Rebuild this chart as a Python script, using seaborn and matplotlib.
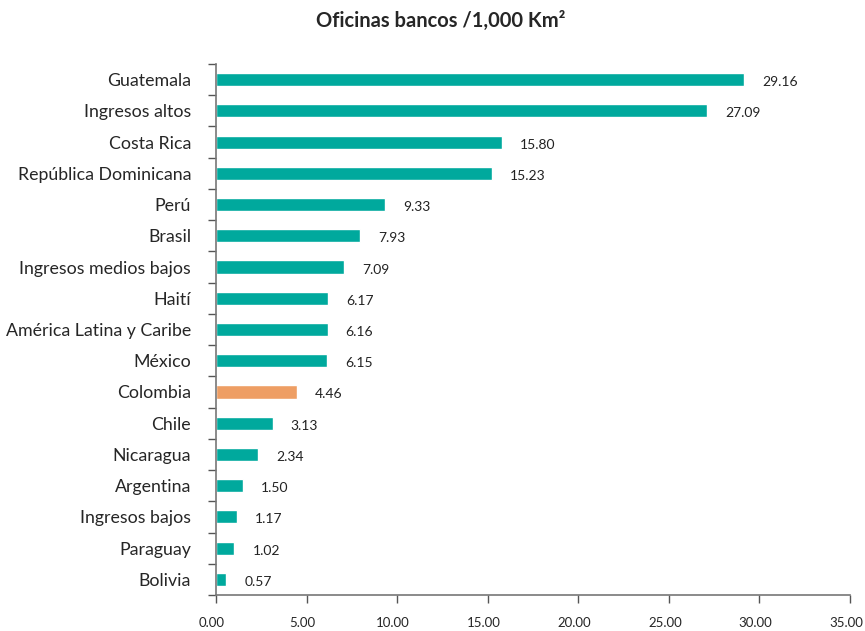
import numpy as np
import pandas as pd
import seaborn as sns
import matplotlib.pyplot as plt
import matplotlib.transforms as mtransforms

paises = [
    "Guatemala", "Ingresos altos", "Costa Rica", "República Dominicana", "Perú",
    "Brasil", "Ingresos medios bajos", "Haití", "América Latina y Caribe", "México",
    "Colombia", "Chile", "Nicaragua", "Argentina", "Ingresos bajos", "Paraguay", "Bolivia",
]
oficinas = [29.16, 27.09, 15.80, 15.23, 9.33, 7.93, 7.09, 6.17, 6.16, 6.15,
            4.46, 3.13, 2.34, 1.50, 1.17, 1.02, 0.57]

teal = "#00A99D"
naranja = "#EE9E64"
colores = [naranja if p == "Colombia" else teal for p in paises]

df = pd.DataFrame({"pais": paises, "valor": oficinas})

sns.set_style("white")
plt.rcParams["font.family"] = ["Lato", "DejaVu Sans"]

fig = plt.figure(figsize=(8.65, 6.31), dpi=100)
ax = fig.add_axes([216 / 865, 1 - 595 / 631, 634 / 865, 531 / 631])

sns.barplot(data=df, x="valor", y="pais", hue="pais", palette=colores,
            legend=False, width=0.42, saturation=1, ax=ax)

# etiquetas de valor
for i, v in enumerate(oficinas):
    ax.text(v + 1.0, i + 0.08, f"{v:.2f}", va="center", ha="left",
            fontsize=10, color="#222222")

ax.set_xlim(0, 35)
ax.set_ylim(len(paises) - 0.5, -0.5)
ax.set_xticks(np.arange(0, 36, 5))
ax.set_xticklabels([f"{t:.2f}" for t in np.arange(0, 36, 5)], fontsize=9.5)
ax.tick_params(axis="x", direction="out", length=6, width=1, color="#555555",
               bottom=True, pad=10)
# desplazar un poco las etiquetas del eje x a la izquierda
desplazamiento = mtransforms.ScaledTranslation(-4 / 100, 0, fig.dpi_scale_trans)
for lab in ax.get_xticklabels():
    lab.set_transform(lab.get_transform() + desplazamiento)

# ticks del eje y entre categorías
ax.set_yticks(np.arange(-0.5, len(paises), 1), minor=True)
ax.tick_params(axis="y", which="minor", direction="out", length=6, width=1,
               color="#555555", left=True)
ax.tick_params(axis="y", which="major", length=0, labelsize=12.8, pad=18)

ax.set_xlabel("")
ax.set_ylabel("")

for s in ["top", "right"]:
    ax.spines[s].set_visible(False)
for s in ["left", "bottom"]:
    ax.spines[s].set_color("#777777")
    ax.spines[s].set_linewidth(1.2)

fig.text(0.5 + 8 / 865, 1 - 21 / 631, "Oficinas bancos /1,000 Km²", ha="center",
         va="center", fontsize=14.5, fontweight="bold")

fig.savefig("out.png", dpi=100)
